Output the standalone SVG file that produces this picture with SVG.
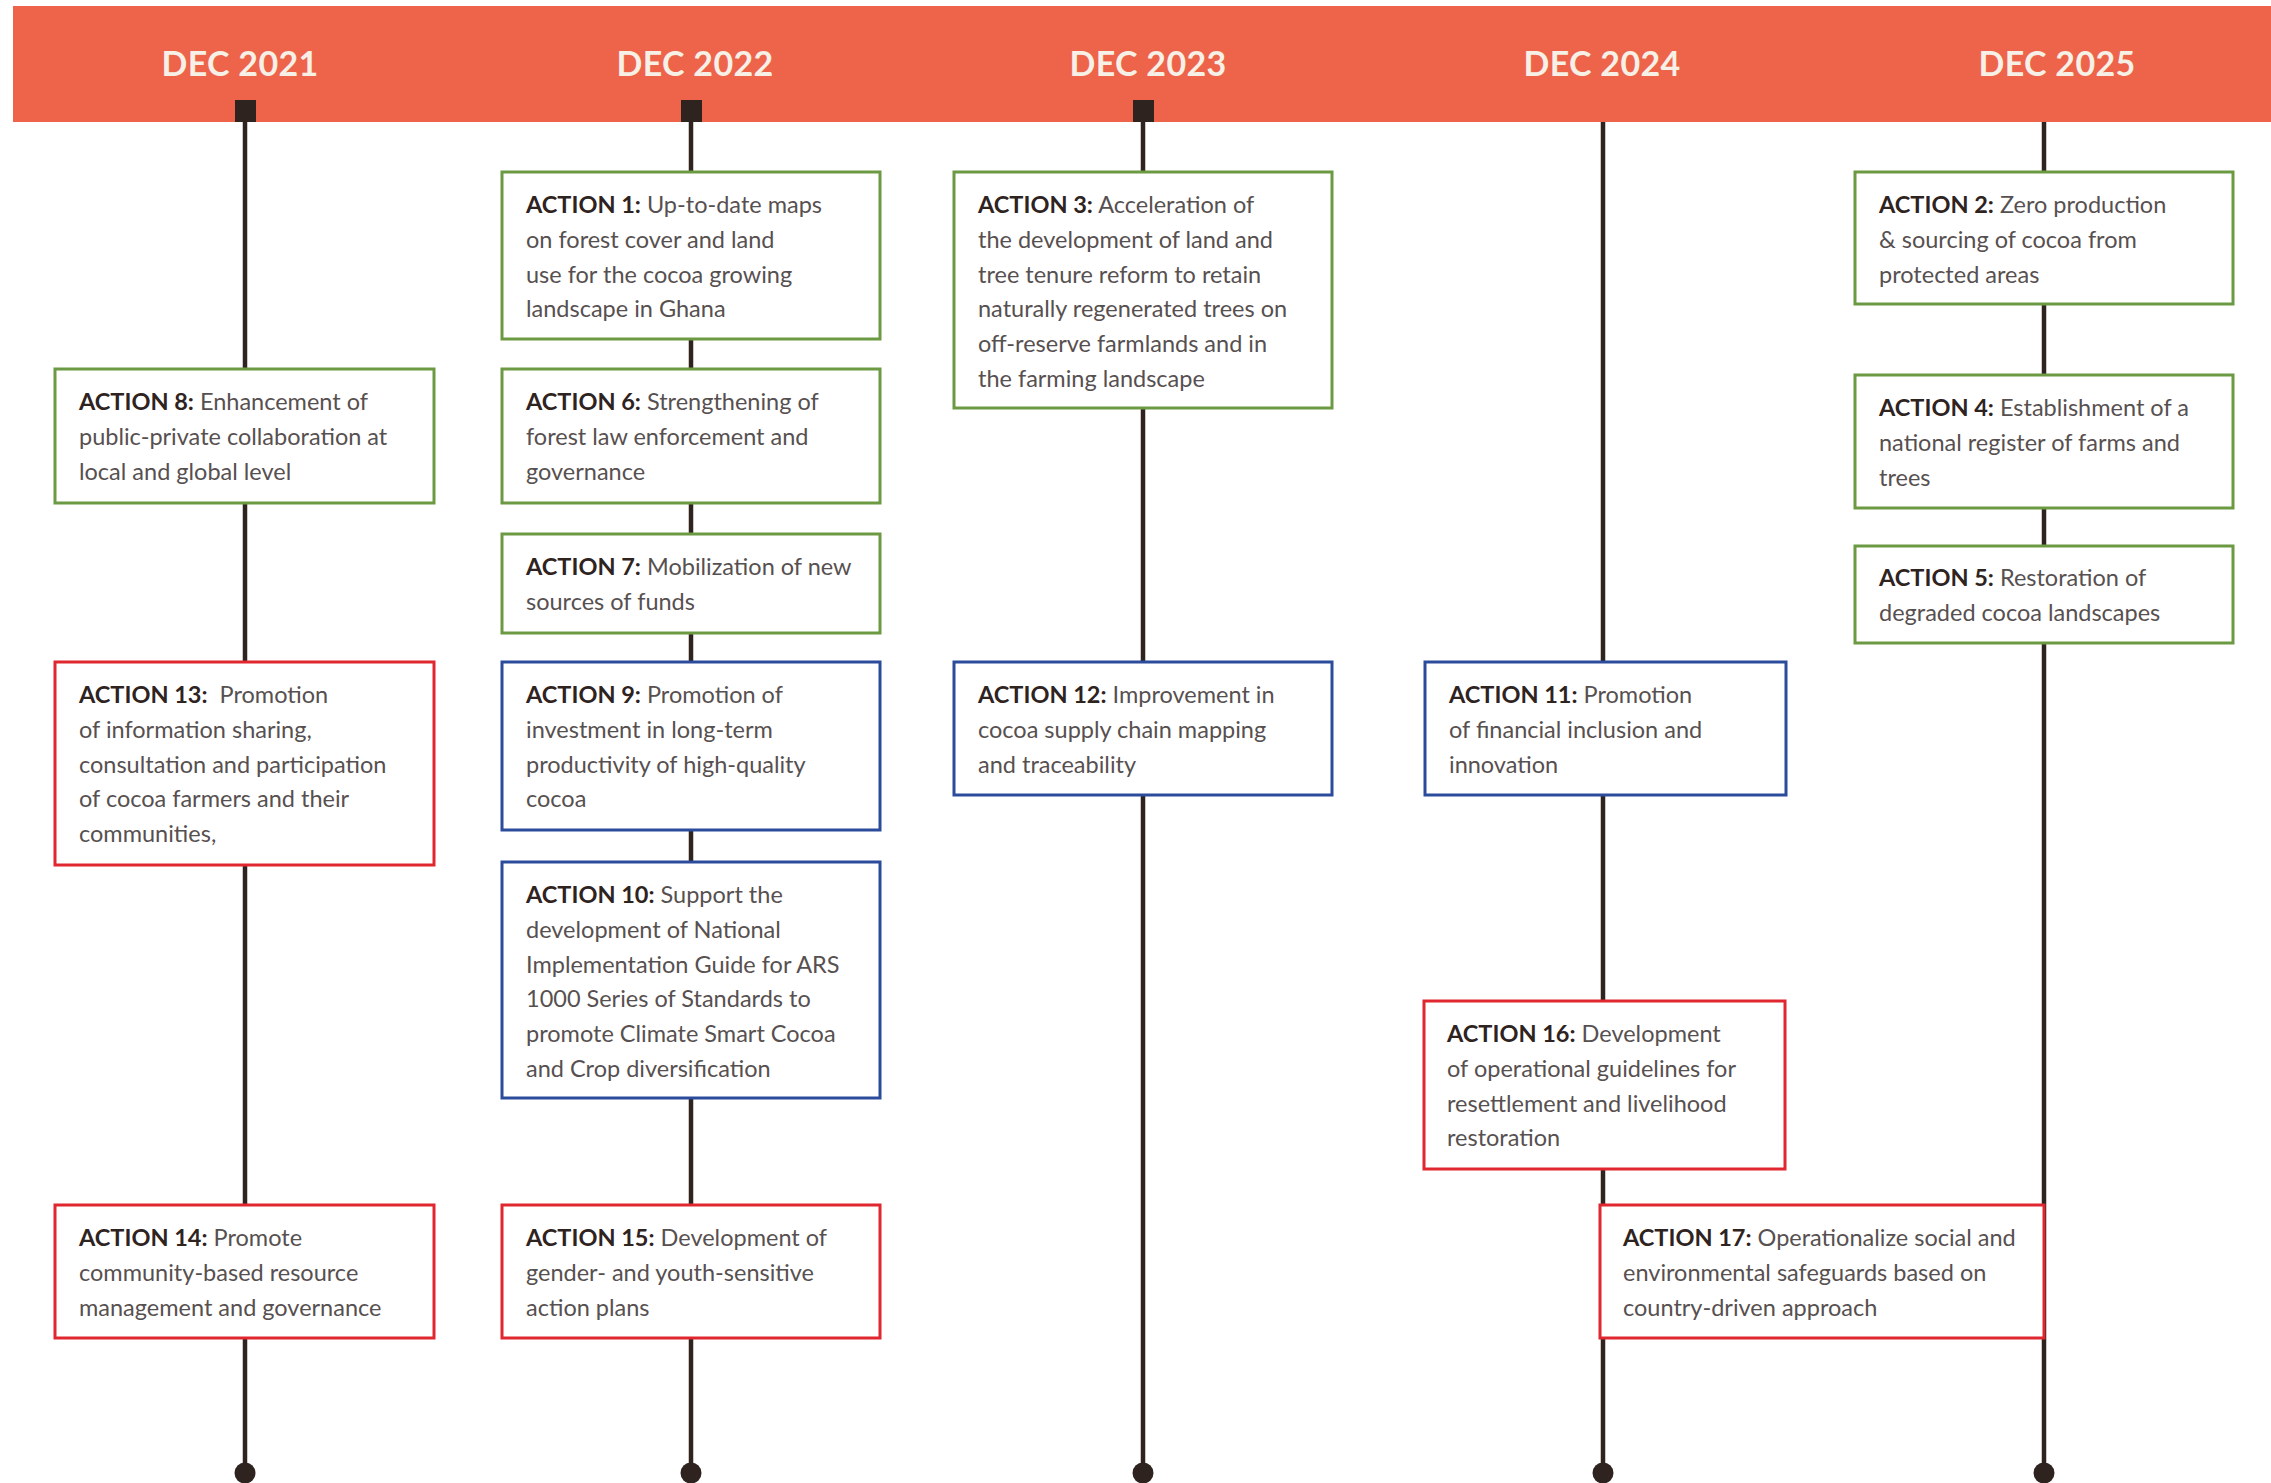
<svg xmlns="http://www.w3.org/2000/svg" width="2271" height="1483" viewBox="0 0 2271 1483">
<style>
.hdr{font-family:Lato,"Liberation Sans",sans-serif;font-weight:700;font-size:34px;fill:#F6F0E6;text-anchor:middle;letter-spacing:0.3px}
.t{font-family:Lato,"Liberation Sans",sans-serif;font-size:23.5px;font-weight:400;fill:#575050}
.b{font-weight:700;fill:#2E231E}
.box{fill:#fff;stroke-width:3}
.g{stroke:#6C9A43}
.bl{stroke:#2B4B9B}
.r{stroke:#E0262F}
.ln{stroke:#2E231E;stroke-width:4.5}
.sq,.dot{fill:#2E231E}
</style>
<rect id="banner" x="13" y="6" width="2258" height="116" fill="#EE644B"/>
<g id="headers">
<text class="hdr" x="240" y="76">DEC 2021</text>
<text class="hdr" x="695" y="76">DEC 2022</text>
<text class="hdr" x="1148" y="76">DEC 2023</text>
<text class="hdr" x="1602" y="76">DEC 2024</text>
<text class="hdr" x="2057" y="76">DEC 2025</text>
</g>
<g id="connectors">
<line class="ln" x1="245" y1="120" x2="245" y2="1473"/>
<line class="ln" x1="691" y1="120" x2="691" y2="1473"/>
<line class="ln" x1="1143" y1="120" x2="1143" y2="1473"/>
<line class="ln" x1="1603" y1="122" x2="1603" y2="1473"/>
<line class="ln" x1="2044" y1="122" x2="2044" y2="1473"/>
<rect class="sq" x="235" y="100" width="21" height="22"/>
<rect class="sq" x="681" y="100" width="21" height="22"/>
<rect class="sq" x="1133" y="100" width="21" height="22"/>
<circle class="dot" cx="245" cy="1473" r="10.5"/>
<circle class="dot" cx="691" cy="1473" r="10.5"/>
<circle class="dot" cx="1143" cy="1473" r="10.5"/>
<circle class="dot" cx="1603" cy="1473" r="10.5"/>
<circle class="dot" cx="2044" cy="1473" r="10.5"/>
</g>
<g id="action1"><rect class="box g" x="502" y="172" width="378" height="167"/>
<text class="t" x="526" y="213"><tspan class="b">ACTION 1:</tspan> Up-to-date maps<tspan x="526" dy="34.8">on forest cover and land</tspan><tspan x="526" dy="34.8">use for the cocoa growing</tspan><tspan x="526" dy="34.8">landscape in Ghana</tspan></text></g>
<g id="action3"><rect class="box g" x="954" y="172" width="378" height="236"/>
<text class="t" x="978" y="213"><tspan class="b">ACTION 3:</tspan> Acceleration of<tspan x="978" dy="34.8">the development of land and</tspan><tspan x="978" dy="34.8">tree tenure reform to retain</tspan><tspan x="978" dy="34.8">naturally regenerated trees on</tspan><tspan x="978" dy="34.8">off-reserve farmlands and in</tspan><tspan x="978" dy="34.8">the farming landscape</tspan></text></g>
<g id="action2"><rect class="box g" x="1855" y="172" width="378" height="132"/>
<text class="t" x="1879" y="213"><tspan class="b">ACTION 2:</tspan> Zero production<tspan x="1879" dy="34.8">&amp; sourcing of cocoa from</tspan><tspan x="1879" dy="34.8">protected areas</tspan></text></g>
<g id="action8"><rect class="box g" x="55" y="369" width="379" height="134"/>
<text class="t" x="79" y="410"><tspan class="b">ACTION 8:</tspan> Enhancement of<tspan x="79" dy="34.8">public-private collaboration at</tspan><tspan x="79" dy="34.8">local and global level</tspan></text></g>
<g id="action6"><rect class="box g" x="502" y="369" width="378" height="134"/>
<text class="t" x="526" y="410"><tspan class="b">ACTION 6:</tspan> Strengthening of<tspan x="526" dy="34.8">forest law enforcement and</tspan><tspan x="526" dy="34.8">governance</tspan></text></g>
<g id="action4"><rect class="box g" x="1855" y="375" width="378" height="133"/>
<text class="t" x="1879" y="416"><tspan class="b">ACTION 4:</tspan> Establishment of a<tspan x="1879" dy="34.8">national register of farms and</tspan><tspan x="1879" dy="34.8">trees</tspan></text></g>
<g id="action7"><rect class="box g" x="502" y="534" width="378" height="99"/>
<text class="t" x="526" y="575"><tspan class="b">ACTION 7:</tspan> Mobilization of new<tspan x="526" dy="34.8">sources of funds</tspan></text></g>
<g id="action5"><rect class="box g" x="1855" y="546" width="378" height="97"/>
<text class="t" x="1879" y="586"><tspan class="b">ACTION 5:</tspan> Restoration of<tspan x="1879" dy="34.8">degraded cocoa landscapes</tspan></text></g>
<g id="action13"><rect class="box r" x="55" y="662" width="379" height="203"/>
<text class="t" x="79" y="703" xml:space="preserve"><tspan class="b">ACTION 13:</tspan>  Promotion<tspan x="79" dy="34.8">of information sharing,</tspan><tspan x="79" dy="34.8">consultation and participation</tspan><tspan x="79" dy="34.8">of cocoa farmers and their</tspan><tspan x="79" dy="34.8">communities,</tspan></text></g>
<g id="action9"><rect class="box bl" x="502" y="662" width="378" height="168"/>
<text class="t" x="526" y="703"><tspan class="b">ACTION 9:</tspan> Promotion of<tspan x="526" dy="34.8">investment in long-term</tspan><tspan x="526" dy="34.8">productivity of high-quality</tspan><tspan x="526" dy="34.8">cocoa</tspan></text></g>
<g id="action12"><rect class="box bl" x="954" y="662" width="378" height="133"/>
<text class="t" x="978" y="703"><tspan class="b">ACTION 12:</tspan> Improvement in<tspan x="978" dy="34.8">cocoa supply chain mapping</tspan><tspan x="978" dy="34.8">and traceability</tspan></text></g>
<g id="action11"><rect class="box bl" x="1425" y="662" width="361" height="133"/>
<text class="t" x="1449" y="703"><tspan class="b">ACTION 11:</tspan> Promotion<tspan x="1449" dy="34.8">of financial inclusion and</tspan><tspan x="1449" dy="34.8">innovation</tspan></text></g>
<g id="action10"><rect class="box bl" x="502" y="862" width="378" height="236"/>
<text class="t" x="526" y="903"><tspan class="b">ACTION 10:</tspan> Support the<tspan x="526" dy="34.8">development of National</tspan><tspan x="526" dy="34.8">Implementation Guide for ARS</tspan><tspan x="526" dy="34.8">1000 Series of Standards to</tspan><tspan x="526" dy="34.8">promote Climate Smart Cocoa</tspan><tspan x="526" dy="34.8">and Crop diversification</tspan></text></g>
<g id="action16"><rect class="box r" x="1424" y="1001" width="361" height="168"/>
<text class="t" x="1447" y="1042"><tspan class="b">ACTION 16:</tspan> Development<tspan x="1447" dy="34.8">of operational guidelines for</tspan><tspan x="1447" dy="34.8">resettlement and livelihood</tspan><tspan x="1447" dy="34.8">restoration</tspan></text></g>
<g id="action14"><rect class="box r" x="55" y="1205" width="379" height="133"/>
<text class="t" x="79" y="1246"><tspan class="b">ACTION 14:</tspan> Promote<tspan x="79" dy="34.8">community-based resource</tspan><tspan x="79" dy="34.8">management and governance</tspan></text></g>
<g id="action15"><rect class="box r" x="502" y="1205" width="378" height="133"/>
<text class="t" x="526" y="1246"><tspan class="b">ACTION 15:</tspan> Development of<tspan x="526" dy="34.8">gender- and youth-sensitive</tspan><tspan x="526" dy="34.8">action plans</tspan></text></g>
<g id="action17"><rect class="box r" x="1600" y="1205" width="444" height="133"/>
<text class="t" x="1623" y="1246"><tspan class="b">ACTION 17:</tspan> Operationalize social and<tspan x="1623" dy="34.8">environmental safeguards based on</tspan><tspan x="1623" dy="34.8">country-driven approach</tspan></text></g>
</svg>
